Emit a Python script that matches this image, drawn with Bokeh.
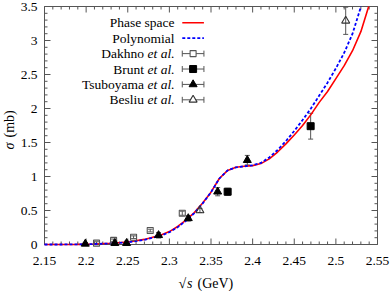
import math
from bokeh.plotting import figure
from bokeh.models import Range1d, Whisker, TeeHead, ColumnDataSource
from bokeh.core.properties import value
from bokeh.embed import file_html
from bokeh.resources import INLINE

# ---------------- data ----------------
PHASE_X = [2.15, 2.17, 2.19, 2.21, 2.23, 2.25, 2.27, 2.29, 2.30, 2.31, 2.32, 2.33,
           2.34, 2.35, 2.36, 2.37, 2.38, 2.39, 2.40, 2.41, 2.42, 2.43, 2.44, 2.45,
           2.46, 2.47, 2.48, 2.49, 2.50, 2.51, 2.52, 2.53, 2.5394]
PHASE_SPACE = [0.000, 0.000, 0.002, 0.008, 0.018, 0.037, 0.075, 0.140, 0.190, 0.265,
               0.360, 0.470, 0.610, 0.770, 0.970, 1.090, 1.135, 1.150, 1.160, 1.190,
               1.260, 1.360, 1.480, 1.610, 1.750, 1.910, 2.090, 2.250, 2.440, 2.630,
               2.850, 3.130, 3.500]
POLY_X = [2.15, 2.17, 2.19, 2.21, 2.23, 2.25, 2.27, 2.29, 2.30, 2.31, 2.32, 2.33,
          2.34, 2.35, 2.36, 2.37, 2.38, 2.39, 2.40, 2.41, 2.42, 2.43, 2.44, 2.45,
          2.46, 2.47, 2.48, 2.49, 2.50, 2.51, 2.52, 2.5302]
POLYNOMIAL = [0.000, 0.000, 0.002, 0.007, 0.016, 0.033, 0.068, 0.130, 0.180, 0.255,
              0.350, 0.462, 0.605, 0.768, 0.970, 1.090, 1.135, 1.150, 1.165, 1.200,
              1.280, 1.390, 1.520, 1.670, 1.830, 2.000, 2.190, 2.380, 2.590, 2.820,
              3.100, 3.500]

DAKHNO_X = [2.2125, 2.233, 2.257, 2.277, 2.3155]
DAKHNO_Y = [0.02, 0.06, 0.107, 0.205, 0.46]
DAKHNO_ERR = [0.02, 0.02, 0.02, 0.02, 0.03]

BRUNT_X = [2.370, 2.4697]
BRUNT_Y = [0.776, 1.74]
BRUNT_ERR = [0.05, 0.19]

TSUBOYAMA_X = [2.199, 2.2345, 2.2486, 2.287, 2.3227, 2.358, 2.3936]
TSUBOYAMA_Y = [0.01, 0.02, 0.02, 0.136, 0.385, 0.776, 1.24]
TSUBOYAMA_ERR = [0.02, 0.03, 0.03, 0.04, 0.04, 0.06, 0.07]

BESLIU_X = [2.3367, 2.5118]
BESLIU_Y = [0.50, 3.29]
BESLIU_ERR = [0.03, 0.20]

X_TICKS = [2.15, 2.2, 2.25, 2.3, 2.35, 2.4, 2.45, 2.5, 2.55]
X_TICK_LABELS = ["2.15", "2.2", "2.25", "2.3", "2.35", "2.4", "2.45", "2.5", "2.55"]
Y_TICKS = [0.0, 0.5, 1.0, 1.5, 2.0, 2.5, 3.0, 3.5]
Y_TICK_LABELS = ["0", "0.5", "1", "1.5", "2", "2.5", "3", "3.5"]

LEGEND_NAMES = ["Phase space", "Polynomial", "Dakhno", "Brunt", "Tsuboyama", "Besliu"]
ET_AL = "et al."
X_TITLE = ["√", "s", "(GeV)"]
Y_TITLE = ["σ", "(mb)"]

# ---------------- style / layout ----------------
FONT = value("Liberation Serif")
FS = value("13.5px")
AX_FS = value("14px")
GREY = "#555555"
W, H = 390, 291
B_LEFT, B_RIGHT, B_TOP, B_BOTTOM = 44, 13, 6, 47      # inner box margins (px)
X0, X1, Y0, Y1 = 2.15, 2.55, 0.0, 3.5
PX_X = (W - B_LEFT - B_RIGHT) / (X1 - X0)   # pixels per x unit
PX_Y = (H - B_TOP - B_BOTTOM) / (Y1 - Y0)   # pixels per y unit
X_MINOR = [round(X0 + 0.01 * i, 2) for i in range(41)]
Y_MINOR = [round(0.1 * i, 1) for i in range(36)]
MAJ, MIN = 6, 3

LEG_TEXT_X = 2.3062
LEG_ETAL_DX = 30.5 / PX_X
LEG_S0, LEG_S1 = 2.3155, 2.3415
LEG_TOP = 3.26
LEG_STEP = 15.4 / PX_Y

# the Bokeh frame covers the whole canvas; the plot box is drawn inside it
p = figure(width=W, height=H,
           x_range=Range1d(X0 - B_LEFT / PX_X, X1 + B_RIGHT / PX_X),
           y_range=Range1d(Y0 - B_BOTTOM / PX_Y, Y1 + B_TOP / PX_Y),
           x_axis_location=None, y_axis_location=None,
           output_backend="svg", toolbar_location=None, min_border=0)
p.grid.visible = False
p.outline_line_color = None
p.background_fill_color = "white"
p.border_fill_color = "white"

# ---------------- box and ticks ----------------
sx0, sy0, sx1, sy1 = [], [], [], []


def seg(a, b, c, d):
    sx0.append(a); sy0.append(b); sx1.append(c); sy1.append(d)


for t in X_MINOR:
    ln = (MAJ if any(abs(t - m) < 1e-9 for m in X_TICKS) else MIN)
    seg(t, Y0, t, Y0 + ln / PX_Y)
    seg(t, Y1, t, Y1 - ln / PX_Y)
for t in Y_MINOR:
    ln = (MAJ if any(abs(t - m) < 1e-9 for m in Y_TICKS) else MIN)
    seg(X0, t, X0 + ln / PX_X, t)
    seg(X1, t, X1 - ln / PX_X, t)
p.segment(sx0, sy0, sx1, sy1, line_color=GREY, line_width=1)
p.quad(left=[X0], right=[X1], bottom=[Y0], top=[Y1], fill_color=None,
       line_color=GREY, line_width=1)

# ---------------- tick labels and titles ----------------
p.text(x=X_TICKS, y=[Y0 - 16 / PX_Y] * len(X_TICKS), text=X_TICK_LABELS,
       text_align="center", text_baseline="middle", text_font=FONT, text_font_size=FS,
       text_color="black")
p.text(x=[X0 - 7 / PX_X] * len(Y_TICKS), y=Y_TICKS, text=Y_TICK_LABELS,
       text_align="right", text_baseline="middle", text_font=FONT, text_font_size=FS,
       text_color="black")

XT_Y = Y0 - 39 / PX_Y
p.text(x=[X0 + (178 - B_LEFT) / PX_X, X0 + (197 - B_LEFT) / PX_X], y=[XT_Y, XT_Y],
       text=[X_TITLE[0], X_TITLE[2]], text_align="left", text_baseline="middle",
       text_font=FONT, text_font_size=AX_FS, text_color="black")
p.text(x=[X0 + (186.5 - B_LEFT) / PX_X], y=[XT_Y], text=[X_TITLE[1]], text_align="left",
       text_baseline="middle", text_font=FONT, text_font_size=AX_FS,
       text_font_style="italic", text_color="black")
YT_X = X0 - 35 / PX_X
p.text(x=[YT_X], y=[Y0 + (244 - 149) / PX_Y], text=[Y_TITLE[0]], angle=math.pi / 2,
       text_align="left", text_baseline="middle", text_font=FONT, text_font_size=AX_FS,
       text_font_style="italic", text_color="black")
p.text(x=[YT_X], y=[Y0 + (244 - 137) / PX_Y], text=[Y_TITLE[1]], angle=math.pi / 2,
       text_align="left", text_baseline="middle", text_font=FONT, text_font_size=AX_FS,
       text_color="black")

# ---------------- curves ----------------
p.line(PHASE_X, PHASE_SPACE, line_color="#ff0000", line_width=1.6)
p.line(POLY_X, POLYNOMIAL, line_color="#0000ff", line_width=1.8, line_dash="3 2")


# ---------------- data points ----------------
def errorbars(xs, ys, errs):
    src = ColumnDataSource(dict(x=xs, y=ys,
                                lo=[y - e for y, e in zip(ys, errs)],
                                hi=[y + e for y, e in zip(ys, errs)]))
    w = Whisker(source=src, base="x", lower="lo", upper="hi", line_color=GREY,
                line_width=1,
                lower_head=TeeHead(size=5, line_color=GREY, line_width=1),
                upper_head=TeeHead(size=5, line_color=GREY, line_width=1))
    p.add_layout(w)
    return src


s = errorbars(DAKHNO_X, DAKHNO_Y, DAKHNO_ERR)
p.scatter("x", "y", source=s, marker="square", size=6, fill_color=None,
          line_color=GREY, line_width=1.1)
s = errorbars(BRUNT_X, BRUNT_Y, BRUNT_ERR)
p.scatter("x", "y", source=s, marker="square", size=7, fill_color="black",
          line_color="black")
s = errorbars(TSUBOYAMA_X, TSUBOYAMA_Y, TSUBOYAMA_ERR)
p.scatter("x", "y", source=s, marker="triangle", size=8, fill_color="black",
          line_color="black")
s = errorbars(BESLIU_X, BESLIU_Y, BESLIU_ERR)
p.scatter("x", "y", source=s, marker="triangle", size=8, fill_color=None,
          line_color="#333333", line_width=1.1)

# ---------------- legend (gnuplot style: text left, sample right) ----------------
rows = [LEG_TOP - LEG_STEP * i for i in range(len(LEGEND_NAMES))]
p.text(x=[LEG_TEXT_X] * 2 + [LEG_TEXT_X - LEG_ETAL_DX] * 4, y=rows, text=LEGEND_NAMES,
       text_align="right", text_baseline="middle", text_font=FONT, text_font_size=FS,
       text_color="black")
p.text(x=[LEG_TEXT_X] * 4, y=rows[2:], text=[ET_AL] * 4, text_align="right",
       text_baseline="middle", text_font=FONT, text_font_size=FS,
       text_font_style="italic", text_color="black")

p.line([LEG_S0, LEG_S1], [rows[0], rows[0]], line_color="#ff0000", line_width=1.6)
p.line([LEG_S0, LEG_S1], [rows[1], rows[1]], line_color="#0000ff", line_width=1.8,
       line_dash="3 2")
leg_src = ColumnDataSource(dict(y=rows[2:], x0=[LEG_S0] * 4, x1=[LEG_S1] * 4))
p.add_layout(Whisker(source=leg_src, base="y", lower="x0", upper="x1", dimension="width",
                     line_color=GREY, line_width=1,
                     lower_head=TeeHead(size=6, line_color=GREY, line_width=1),
                     upper_head=TeeHead(size=6, line_color=GREY, line_width=1)))
xc = (LEG_S0 + LEG_S1) / 2
p.scatter([xc], [rows[2]], marker="square", size=6, fill_color="white",
          line_color=GREY, line_width=1.1)
p.scatter([xc], [rows[3]], marker="square", size=7, fill_color="black", line_color="black")
p.scatter([xc], [rows[4]], marker="triangle", size=8, fill_color="black",
          line_color="black")
p.scatter([xc], [rows[5]], marker="triangle", size=8, fill_color="white",
          line_color="#333333", line_width=1.1)

open("out.html", "w").write(file_html(p, INLINE))
